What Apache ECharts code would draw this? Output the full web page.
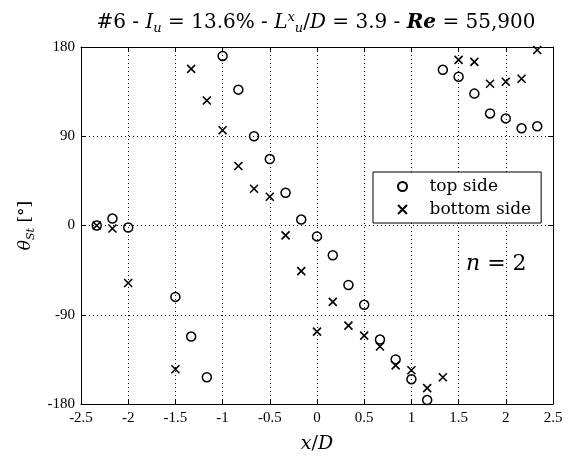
<!DOCTYPE html>
<html>
<head>
<meta charset="utf-8">
<script src="https://cdn.jsdelivr.net/npm/echarts@6/dist/echarts.min.js"></script>
<style>
  html, body { margin: 0; padding: 0; background: #fff; }
  #chart { width: 568px; height: 459px; }
</style>
</head>
<body>
<div id="chart"></div>
<script>
// x/D stations
var xPos = [-2.333, -2.167, -2, -1.5, -1.333, -1.167, -1, -0.833, -0.667, -0.5, -0.333, -0.167,
  0, 0.167, 0.333, 0.5, 0.667, 0.833, 1, 1.167, 1.333, 1.5, 1.667, 1.833, 2, 2.167, 2.333];
// theta_St, top side (circles)
var topSide = [0, 7, -2, -72, -112, -153, 171, 137, 90, 67, 33, 6,
  -11, -30, -60, -80, -115, -135, -155, -176, 157, 150, 133, 113, 108, 98, 100];
// theta_St, bottom side (crosses)
var bottomSide = [0, -3, -58, -145, 158, 126, 96, 60, 37, 29, -10, -46,
  -107, -77, -101, -111, -122, -141, -146, -164, -153, 167, 165, 143, 145, 148, 177];

var xTicks = [-2.5, 2.5, 0.5];   // min, max, step
var yTicks = [-180, 180, 90];

function pairs(xs, ys) {
  return xs.map(function (x, i) { return [x, ys[i]]; });
}

var chart = echarts.init(document.getElementById('chart'));

var serif = 'Liberation Serif';
var cm = 'DejaVu Serif';

var splitDots = { show: true, lineStyle: { color: '#000', width: 1, type: [1, 3] } };
var frameLine = { show: true, onZero: false, lineStyle: { color: '#000', width: 1 } };
var tickIn = { show: true, inside: true, length: 5, lineStyle: { color: '#000' } };

var option = {
  backgroundColor: '#fff',
  animation: false,
  title: {
    left: 311,
    top: 6,
    textAlign: 'center',
    text: '#6 - {i|I}{sub|u} = 13.6% - {i|L}{sup|x}{sub|u}{n|/}{i|D} = 3.9 - {b|Re} = 55,900',
    textStyle: {
      fontFamily: cm, fontSize: 20, fontWeight: 'normal', color: '#000', lineHeight: 24,
      rich: {
        i: { fontFamily: cm, fontSize: 20, fontStyle: 'italic', color: '#000', lineHeight: 24 },
        b: { fontFamily: cm, fontSize: 20, fontStyle: 'italic', fontWeight: 'bold', color: '#000', lineHeight: 24 },
        n: { fontFamily: cm, fontSize: 20, color: '#000', lineHeight: 24 },
        sub: { fontFamily: cm, fontSize: 13, fontStyle: 'italic', color: '#000', lineHeight: 13, verticalAlign: 'bottom' },
        sup: { fontFamily: cm, fontSize: 13, fontStyle: 'italic', color: '#000', lineHeight: 13, verticalAlign: 'top' }
      }
    }
  },
  legend: {
    left: 373,
    top: 172,
    orient: 'vertical',
    padding: [6, 10, 5, 24],
    itemGap: 6,
    itemWidth: 44,
    itemHeight: 9,
    borderColor: '#000',
    borderWidth: 1,
    borderRadius: 0,
    backgroundColor: '#fff',
    textStyle: { fontFamily: cm, fontSize: 17, color: '#000', lineHeight: 16 },
    data: ['top side', 'bottom side']
  },
  grid: { left: 81, right: 15, top: 47, bottom: 54, containLabel: false },
  xAxis: [{
    type: 'value', position: 'bottom',
    min: xTicks[0], max: xTicks[1], interval: xTicks[2],
    axisLine: frameLine, axisTick: tickIn, splitLine: splitDots,
    axisLabel: { fontFamily: serif, fontSize: 15, color: '#000', margin: 7 },
    name: '{i|x}/{i|D}', nameLocation: 'middle', nameGap: 31,
    nameTextStyle: {
      fontFamily: cm, fontSize: 19, color: '#000',
      rich: { i: { fontFamily: cm, fontSize: 19, fontStyle: 'italic', color: '#000' } }
    }
  }, {
    type: 'value', position: 'top',
    min: xTicks[0], max: xTicks[1], interval: xTicks[2],
    axisLine: frameLine, axisTick: tickIn, splitLine: { show: false },
    axisLabel: { show: false }
  }],
  yAxis: [{
    type: 'value', position: 'left',
    min: yTicks[0], max: yTicks[1], interval: yTicks[2],
    axisLine: frameLine, axisTick: tickIn, splitLine: splitDots,
    axisLabel: { fontFamily: serif, fontSize: 15, color: '#000', margin: 6 },
    name: '{i|θ}{sub|St} [°]', nameLocation: 'middle', nameGap: 42, nameRotate: 90,
    nameTextStyle: {
      fontFamily: cm, fontSize: 17, color: '#000', lineHeight: 22,
      rich: {
        i: { fontFamily: cm, fontSize: 17, fontStyle: 'italic', color: '#000', lineHeight: 22 },
        sub: { fontFamily: cm, fontSize: 11, fontStyle: 'italic', color: '#000', lineHeight: 12, verticalAlign: 'bottom' }
      }
    }
  }, {
    type: 'value', position: 'right',
    min: yTicks[0], max: yTicks[1], interval: yTicks[2],
    axisLine: frameLine, axisTick: tickIn, splitLine: { show: false },
    axisLabel: { show: false }
  }],
  graphic: [{
    type: 'text',
    left: 466,
    top: 253,
    style: {
      text: '{i|n} = 2',
      fontFamily: cm, fontSize: 22, fill: '#000',
      rich: { i: { fontFamily: cm, fontSize: 22, fontStyle: 'italic', fill: '#000' } }
    }
  }],
  series: [{
    name: 'top side',
    type: 'scatter',
    data: pairs(xPos, topSide),
    symbol: 'circle',
    symbolSize: 9,
    itemStyle: { color: 'transparent', borderColor: '#000', borderWidth: 1.5, opacity: 1 },
    z: 3
  }, {
    name: 'bottom side',
    type: 'scatter',
    data: pairs(xPos, bottomSide),
    symbol: 'path://M0,0L10,10M10,0L0,10',
    symbolSize: 8,
    itemStyle: { color: '#000', borderColor: '#000', borderWidth: 1.6, opacity: 1 },
    z: 4
  }]
};

chart.setOption(option);
</script>
</body>
</html>
